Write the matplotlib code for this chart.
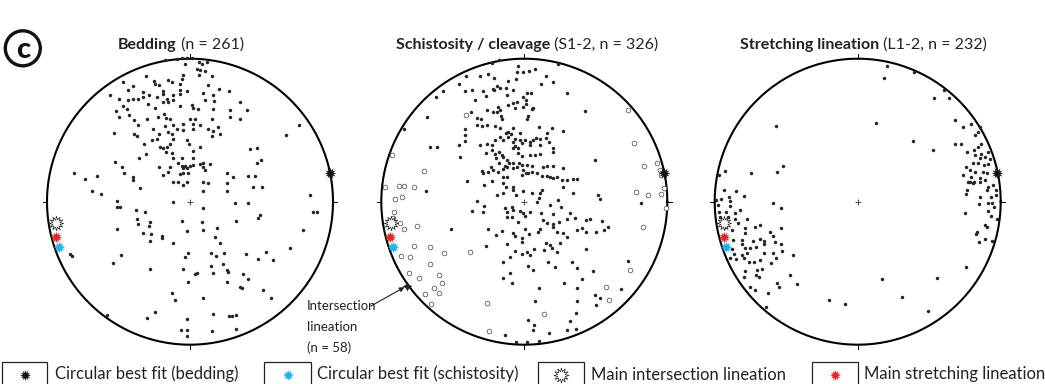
import numpy as np
import matplotlib.pyplot as plt
from matplotlib.patches import Rectangle, Ellipse

plt.rcParams['font.family'] = ['Lato', 'DejaVu Sans']

# digitised net coordinates (east, north), primitive radius = 430
NET_R = 430

bedding_poles = [
    (-75, 425), (-40, 430), (-25, 432), (-10, 433), (5, 433), (28, 420), (35, 415), (50, 420), (-15, 415),
    (20, 400), (30, 395), (45, 393), (28, 380), (65, 377), (-22, 380), (-25, 370), (-132, 377), (-202, 360),
    (-170, 349), (-108, 362), (-105, 355), (-92, 350), (-67, 365), (-55, 360), (-30, 355), (-30, 335),
    (-30, 325), (-10, 333), (40, 327), (55, 350), (88, 340), (118, 333), (-186, 337), (-140, 330), (-122, 320),
    (-100, 315), (-80, 333), (-80, 323), (-70, 310), (-50, 320), (-242, 320), (-215, 309), (-185, 305),
    (-170, 308), (-155, 310), (-140, 315), (-125, 295), (-105, 283), (-82, 300), (-65, 300), (-50, 305),
    (-30, 287), (5, 290), (8, 283), (25, 280), (45, 305), (68, 320), (72, 303), (70, 278), (120, 275),
    (150, 300), (170, 275), (-222, 272), (-202, 287), (-190, 280), (-215, 255), (-182, 260), (-168, 247),
    (-155, 230), (-128, 250), (-110, 220), (-95, 255), (-77, 265), (-73, 253), (-60, 250), (-50, 230),
    (-22, 235), (0, 250), (10, 220), (30, 230), (65, 250), (120, 255), (150, 250), (-230, 207), (-167, 205),
    (-160, 198), (-138, 173), (-115, 185), (-100, 190), (-92, 205), (-75, 227), (-65, 210), (-55, 205),
    (-52, 190), (-40, 220), (-20, 217), (10, 233), (15, 250), (30, 165), (55, 220), (70, 213), (85, 225),
    (66, 198), (90, 203), (-90, 163), (-80, 160), (-70, 165), (-60, 173), (-72, 150), (-55, 145), (-132, 143),
    (-152, 130), (-10, 185), (-3, 173), (10, 153), (10, 130), (-50, 130), (-25, 132), (-35, 115), (-25, 108),
    (-14, 108), (-22, 100), (-10, 100), (0, 108), (10, 110), (30, 112), (40, 115), (60, 112), (-92, 105),
    (-60, 105), (-65, 90), (-80, 80), (-20, 87), (-5, 85), (-30, 83), (40, 105), (45, 95), (-225, 120),
    (-205, 103), (-198, 85), (-170, 75), (-172, 65), (-350, 87), (-315, 68), (-280, 78), (110, 85), (130, 75),
    (175, 78), (195, 78), (180, 157), (200, 160), (200, 117), (212, 125), (290, 200), (328, 232),
    (-295, 32), (-268, 23), (-220, 3), (-220, -17), (-210, -17), (-150, 40), (-163, -25), (-135, -30),
    (-160, -53), (-155, -68), (-120, -60), (-122, -73), (-140, -93), (-118, -97), (-85, -103), (-83, -110),
    (-120, -117), (-220, -82), (-50, -125), (-52, 60), (-35, 60), (-22, 50), (-10, 60), (40, 60), (55, 55),
    (40, 33), (110, 55), (110, 33), (-50, 0), (40, -20), (135, -3), (175, -5), (-25, -57), (35, -62),
    (40, -85), (-10, -88), (80, -80), (137, -58), (75, -105), (90, -125), (210, -40), (205, -50), (370, -30),
    (382, -32), (360, 20), (340, -85), (190, 45), (218, 43), (300, -140), (230, -150), (205, -172),
    (250, -175), (168, -157), (102, -155), (78, -163), (62, -155), (-5, -155), (-15, -165), (98, -187),
    (62, -193), (70, -215), (110, -205), (115, -212), (20, -213), (15, -218), (-20, -202), (-5, -240),
    (110, -240), (160, -217), (175, -233), (150, -255), (155, -260), (220, -267), (245, -291), (-55, -275),
    (-45, -295), (40, -290), (-120, -203), (-208, -160), (-232, -183), (-360, -157), (-355, -163),
    (-250, -340), (-130, -350), (-105, -333), (-10, -353), (70, -338), (118, -343), (127, -345), (138, -342),
    (-10, -385), (-28, -387), (-10, -405), (65, -388), (138, -382),
]

schist_poles = [
    (-98, 417), (-75, 425), (102, 415), (-20, 407), (-23, 390), (-3, 389), (14, 393), (32, 398), (-175, 377),
    (-133, 377), (-108, 385), (-91, 373), (-48, 362), (-25, 370), (65, 377), (87, 360), (49, 355), (-195, 355),
    (-178, 333), (-156, 337), (-123, 333), (-95, 340), (-83, 347), (-91, 337), (-73, 343), (-56, 343),
    (-53, 322), (-33, 335), (7, 328), (19, 328), (-5, 315), (4, 305), (-265, 315), (-243, 333), (127, 327),
    (-148, 305), (-115, 317), (-78, 285), (-73, 275), (-48, 290), (-33, 298), (-23, 300), (-28, 282),
    (-5, 285), (5, 293), (27, 283), (22, 278), (-143, 253), (-131, 250), (-113, 275), (-95, 270), (-83, 270),
    (-70, 257), (-66, 250), (-161, 270), (12, 258), (9, 250), (-293, 255), (-178, 220), (-141, 230),
    (-126, 227), (-113, 230), (-88, 227), (-73, 222), (-56, 208), (-48, 210), (-33, 222), (-40, 205),
    (-13, 207), (45, 225), (67, 207), (83, 222), (115, 212), (65, 193), (182, 272), (-363, 220), (-283, 165),
    (-263, 165), (-195, 170), (-178, 182), (-178, 200), (-133, 170), (-113, 175), (-97, 170), (-88, 185),
    (-73, 195), (-65, 185), (-48, 195), (-28, 190), (-33, 180), (-13, 185), (-8, 177), (2, 185), (17, 180),
    (27, 185), (35, 192), (47, 190), (17, 170), (47, 170), (75, 180), (87, 160), (85, 150), (-193, 135),
    (-115, 147), (-98, 155), (-88, 142), (-75, 148), (-68, 140), (-85, 130), (-63, 135), (-53, 125),
    (-33, 160), (-28, 167), (-18, 160), (-18, 145), (-8, 137), (17, 140), (32, 140), (47, 143), (-45, 117),
    (-33, 115), (-75, 115), (-100, 105), (-58, 108), (-15, 115), (-8, 110), (-23, 105), (7, 110), (22, 108),
    (57, 105), (67, 108), (87, 108), (117, 100), (212, 125), (-128, 93), (-123, 87), (-110, 90), (-93, 95),
    (-78, 88), (-63, 97), (-51, 105), (-33, 100), (-3, 95), (5, 87), (12, 85), (22, 90), (37, 85), (52, 77),
    (67, 77), (77, 75), (87, 72), (97, 75), (147, 68), (157, 68), (-65, 73), (-53, 75), (-8, 80), (112, 65),
    (127, 65),
    (-295, 32), (-173, 63), (-120, 50), (-98, 63), (-63, 55), (-55, 43), (-35, 45), (-83, 20), (-63, 25),
    (-33, 35), (-25, 20), (-5, 33), (22, 25), (47, 27), (52, 35), (117, 43), (147, 25), (-143, 3), (-121, -13),
    (-158, -27), (-125, -32), (-58, -20), (-53, -30), (-38, -15), (-33, -25), (-13, -27), (-5, -35), (17, -30),
    (37, 0), (45, 10), (77, -10), (102, 5), (109, -15), (50, -33), (85, -38), (137, -33), (152, -50),
    (127, -53), (-53, -45), (-38, -45), (-18, -60), (2, -42), (57, -55), (67, -65), (87, -68), (105, -60),
    (187, -55), (197, -53), (235, -58), (222, 20), (229, 7), (352, -5), (-220, -82), (-110, -82), (-68, -87),
    (-85, -100), (-33, -95), (-28, -103), (-8, -108), (-8, -120), (15, -97), (2, -83), (47, -83), (42, -90),
    (87, -75), (99, -90), (115, -95), (127, -107), (159, -85), (175, -80), (185, -90), (215, -90), (240, -85),
    (252, -75), (-115, -133), (-53, -127), (-28, -147), (-8, -157), (7, -150), (17, -160), (30, -143),
    (60, -145), (65, -123), (77, -130), (82, -140), (99, -150), (107, -125), (187, -143), (-63, -180),
    (-43, -165), (-43, -213), (-65, -228), (-36, -243), (12, -192), (25, -205), (72, -180), (92, -195),
    (142, -180), (159, -200), (207, -207), (175, -232), (119, -245), (45, -260), (157, -258), (212, -280),
    (227, -290), (292, -263), (311, -179), (217, -312), (32, -300), (157, -300), (155, -335), (137, -360),
    (12, -355), (30, -370), (27, -387), (-58, -400), (75, -395), (127, -385), (155, -382), (-25, -422),
    (7, -422), (43, -418),
]

intersection_lin = [
    (-175, 262), (312, 275), (329, 177), (-398, 140), (-303, 92), (359, 107), (400, 115), (407, 95), (412, 80),
    (-418, 45), (-378, 47), (-363, 47), (-331, 43), (-388, 7), (-368, 13), (-393, -30), (-395, -50),
    (-373, -65), (-363, -83), (-323, -73), (-331, -132), (-283, -137), (-241, -153), (-370, -163),
    (-345, -167), (-285, -188), (-255, -219), (-248, -245), (-318, -230), (-348, -215), (-273, -258),
    (-298, -277), (-255, -275), (-281, -308), (-163, -150), (-113, -305), (-105, -388), (59, -338),
    (245, -255), (255, -297), (317, -205), (357, -75), (337, 30), (372, 20), (412, 23), (419, 40), (425, -20),
]

stretch_lin = [
    (87, 408), (79, 373), (170, 390), (260, 337), (230, 312), (274, 312), (54, 238), (-246, 228), (165, 183),
    (227, 155), (292, 245), (317, 225), (340, 235), (367, 225), (362, 210), (352, 200), (292, 173), (312, 173),
    (330, 150), (350, 155), (362, 165), (372, 175), (352, 140), (372, 143), (392, 150), (367, 130), (382, 135),
    (397, 127), (347, 115), (362, 115), (380, 110), (392, 112), (327, 105), (337, 95), (352, 90), (377, 90),
    (390, 85), (317, 80), (342, 75), (367, 70), (350, 58), (337, 60), (382, 65), (-398, 93), (-416, 80),
    (-321, 85), (-243, 90), (-225, 107),
    (332, 60), (347, 55), (367, 60), (392, 45), (407, 50), (417, 35), (390, 35), (417, 20), (330, 35),
    (327, 23), (367, 13), (364, -7), (400, 15), (392, -5), (405, -3), (409, -15), (392, -28), (400, -43),
    (420, -53), (322, -33), (384, -70), (389, -77), (360, -90), (357, -97), (364, -120), (384, -112),
    (405, -117), (325, -197), (237, -230), (132, -287), (210, -328), (74, -231), (-85, -295), (-38, -308),
    (-403, 35), (-365, 33), (-343, 18), (-426, 5), (-410, 7), (-388, 13), (-383, 3), (-420, -10), (-383, -13),
    (-396, -30), (-416, -32), (-368, -33), (-353, -25), (-256, -3), (-230, -18), (-413, -45), (-390, -47),
    (-370, -53), (-360, -63), (-333, -53), (-338, -80), (-310, -75), (-293, -70), (-230, -78), (-400, -75),
    (-378, -85), (-340, -95), (-263, -90), (-256, -103), (-376, -115), (-348, -115), (-316, -117),
    (-293, -113), (-283, -117), (-248, -120), (-230, -127), (-348, -127), (-338, -140), (-323, -140),
    (-333, -153), (-283, -128), (-305, -137), (-283, -153), (-256, -155), (-228, -147), (-378, -143),
    (-373, -157), (-383, -170), (-365, -173), (-348, -160), (-343, -170), (-328, -180), (-313, -180),
    (-293, -175), (-260, -183), (-246, -170), (-196, -160), (-340, -207), (-303, -205), (-288, -203),
    (-343, -225), (-305, -220), (-298, -227), (-243, -245), (-236, -257), (-203, -220), (-183, -247),
    (-323, -255), (-310, -265), (-270, -275), (-275, -318),
]

best_fit_bedding = (420, 85)
main_intersection = (-402, -63)
best_fit_schist = (-395, -135)
main_stretch = (-403, -105)
intersection_mean = (-353, -253)

titles = [('Bedding', ' (n = 261)'),
          ('Schistosity / cleavage', ' (S1-2, n = 326)'),
          ('Stretching lineation', ' (L1-2, n = 232)')]
legend_labels = ['Circular best fit (bedding)', 'Circular best fit (schistosity)',
                 'Main intersection lineation', 'Main stretching lineation']

RED = '#ee2027'
BLUE = '#1fb1ec'
DOT = '#262626'
burst = (12, 1, 0)

W, H = 1045, 384
fig = plt.figure(figsize=(W / 100, H / 100), dpi=100)

centres = [190, 524.3, 857.7]
cy = 201.7
rad_px = 143
half = 152


def to_xy(pts):
    a = np.array(pts, dtype=float) / NET_R
    return a[:, 0], a[:, 1]


def net_axes(cx):
    ax = fig.add_axes([(cx - half) / W, (H - cy - half) / H, 2 * half / W, 2 * half / H])
    lim = half / rad_px
    ax.set_xlim(-lim, lim)
    ax.set_ylim(-lim, lim)
    ax.axis('off')
    t = np.linspace(0, 2 * np.pi, 500)
    ax.plot(np.cos(t), np.sin(t), color='black', lw=1.5, zorder=3)
    for ang in [0, 90, 180, 270]:
        c, s = np.cos(np.radians(ang)), np.sin(np.radians(ang))
        ax.plot([c, 1.03 * c], [s, 1.03 * s], color='black', lw=0.7)
    ax.plot(0, 0, marker='+', color='#333333', ms=5, mew=0.6)
    return ax


def mean_markers(ax):
    x, y = to_xy([main_intersection])
    ax.plot(x, y, marker=burst, ms=10.5, mfc='white', mec='#222222', mew=0.5, ls='none', zorder=5)
    x, y = to_xy([best_fit_schist])
    ax.plot(x, y, marker=burst, ms=8.5, color=BLUE, mew=0, ls='none', zorder=6)
    x, y = to_xy([main_stretch])
    ax.plot(x, y, marker=burst, ms=8.5, color=RED, mew=0, ls='none', zorder=7)
    x, y = to_xy([best_fit_bedding])
    ax.plot(x, y, marker=burst, ms=8.5, color='#111111', mew=0, ls='none', zorder=6)


axes = [net_axes(cx) for cx in centres]

x, y = to_xy(bedding_poles)
axes[0].plot(x, y, 'o', ms=2.5, color=DOT, mew=0, ls='none', zorder=4)

x, y = to_xy(intersection_lin)
axes[1].plot(x, y, 'o', ms=3.4, mfc='white', mec='#444444', mew=0.5, ls='none', zorder=4)
x, y = to_xy(schist_poles)
axes[1].plot(x, y, 'o', ms=2.5, color=DOT, mew=0, ls='none', zorder=4)

x, y = to_xy(stretch_lin)
axes[2].plot(x, y, 'o', ms=2.5, color=DOT, mew=0, ls='none', zorder=4)

for ax in axes:
    mean_markers(ax)

# intersection lineation mean + label
x, y = to_xy([intersection_mean])
axes[1].plot(x, y, marker=(4, 1, 0), ms=7, color='#222222', mew=0, ls='none', zorder=8)
axes[1].annotate('', xy=(x[0], y[0]), xytext=(371, H - 306), textcoords='figure pixels',
                 arrowprops=dict(arrowstyle='-|>', color='#222222', lw=0.8, mutation_scale=7,
                                 shrinkA=0, shrinkB=2), annotation_clip=False)
for txt, yb in zip(['Intersection', 'lineation', '(n = 58)'], [310, 331, 352]):
    fig.text(307 / W, (H - yb) / H, txt, fontsize=9.5, va='baseline', ha='left', color='#222222')

# titles with bold first part
renderer = fig.canvas.get_renderer()
title_centres = [181, 527, 863]
for (bold, rest), tc in zip(titles, title_centres):
    tb = fig.text(0, 0, bold, fontsize=11.5, fontweight='bold', va='baseline', color='#222222')
    tr = fig.text(0, 0, rest, fontsize=11.5, va='baseline', color='#222222')
    wb = tb.get_window_extent(renderer).width
    wr = tr.get_window_extent(renderer).width
    x0 = tc - (wb + wr) / 2
    tb.set_position((x0 / W, (H - 49) / H))
    tr.set_position(((x0 + wb) / W, (H - 49) / H))

# panel label
fig.patches.append(Ellipse((22.8 / W, (H - 48.3) / H), 35 / W, 35 / H, transform=fig.transFigure,
                           fill=False, lw=2.4, ec='#111111'))
fig.text(22.8 / W, (H - 49.5) / H, 'c', fontsize=21, fontweight='black', ha='center', va='center',
         color='#111111')

# legend
box_x = [(2, 47), (264, 311), (538, 584), (812, 858)]
text_x = [55, 317, 591, 864]
leg_marker = [dict(marker=burst, ms=8, color='#111111', mew=0),
              dict(marker=burst, ms=8, color=BLUE, mew=0),
              dict(marker=burst, ms=11, mfc='white', mec='#222222', mew=0.5),
              dict(marker=burst, ms=8, color=RED, mew=0)]
for (x0, x1), tx, lab, mk in zip(box_x, text_x, legend_labels, leg_marker):
    fig.patches.append(Rectangle((x0 / W, -0.05), (x1 - x0) / W, 0.05 + (H - 361.7) / H,
                                 transform=fig.transFigure, fill=False, lw=0.9, ec='#222222'))
    fig.lines.append(plt.Line2D([(x0 + x1) / 2 / W], [(H - 375) / H], transform=fig.transFigure,
                                ls='none', **mk))
    fig.text(tx / W, (H - 379.5) / H, lab, fontsize=12, va='baseline', ha='left', color='#222222')

fig.savefig('out.png', dpi=100)
